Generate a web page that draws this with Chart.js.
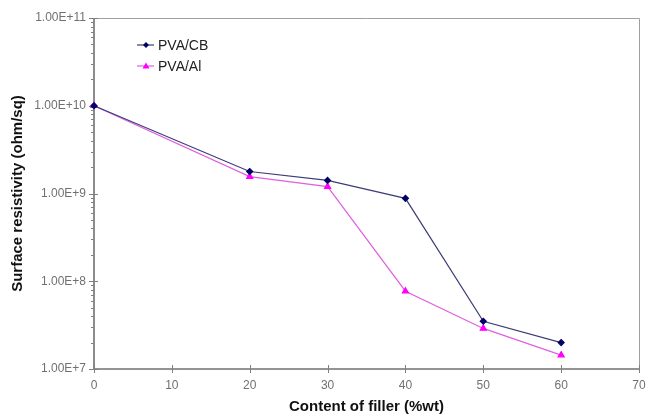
<!DOCTYPE html>
<html>
<head>
<meta charset="utf-8">
<script src="https://cdn.jsdelivr.net/npm/chart.js@4"></script>
<style>
  html, body { margin: 0; padding: 0; background: #fff; }
  #wrap { width: 646px; height: 416px; }
</style>
</head>
<body>
<div id="wrap"><canvas id="c" width="646" height="416"></canvas></div>
<script>
// filler content (% wt)
const fillerContent = [0, 20, 30, 40, 50, 60];
// surface resistivity (ohm/sq)
const pvaCB = [1.0e10, 1.78e9, 1.41e9, 8.8e8, 3.5e7, 2.0e7];
const pvaAl = [1.0e10, 1.56e9, 1.2e9, 7.7e7, 2.9e7, 1.44e7];
const seriesNames = ["PVA/CB", "PVA/Al"];
const yMin = 1e7, yMax = 1e11;
const xMin = 0, xMax = 70, xStep = 10;

const toPoints = (vals) => vals.map((v, i) => ({ x: fillerContent[i], y: v }));

// frame + tick marks, drawn before the lines so the markers sit on top
const axisFrame = {
  id: "axisFrame",
  beforeDatasetsDraw(chart) {
    const { ctx, chartArea: a, scales } = chart;
    ctx.save();
    ctx.strokeStyle = "#a0a0a0";
    ctx.lineWidth = 1;
    ctx.beginPath();
    ctx.moveTo(a.left, a.top + 0.5);
    ctx.lineTo(a.right + 0.5, a.top + 0.5);
    ctx.lineTo(a.right + 0.5, a.bottom);
    ctx.stroke();

    ctx.strokeStyle = "#707070";
    ctx.lineWidth = 1.6;
    ctx.beginPath();
    ctx.moveTo(a.left, a.top);
    ctx.lineTo(a.left, a.bottom);
    ctx.lineTo(a.right + 1, a.bottom);
    ctx.stroke();

    ctx.lineWidth = 1;
    ctx.strokeStyle = "#808080";
    const y = scales.y;
    y.ticks.forEach((t) => {
      const py = Math.round(y.getPixelForValue(t.value)) + 0.5;
      const major = t.label !== "";
      ctx.beginPath();
      ctx.moveTo(a.left - (major ? 5 : 3), py);
      ctx.lineTo(a.left + (major ? 4 : 0), py);
      ctx.stroke();
    });
    const x = scales.x;
    x.ticks.forEach((t) => {
      const px = Math.round(x.getPixelForValue(t.value)) + 0.5;
      ctx.beginPath();
      ctx.moveTo(px, a.bottom - 4);
      ctx.lineTo(px, a.bottom + 4);
      ctx.stroke();
    });
    ctx.restore();
  },
  afterDraw(chart) {
    // legend inside the plot, line + marker + name
    const { ctx } = chart;
    const x0 = 137, y0 = 45, gap = 21;
    ctx.save();
    chart.data.datasets.forEach((ds, i) => {
      const yy = y0 + i * gap;
      ctx.strokeStyle = ds.borderColor;
      ctx.lineWidth = 1.2;
      ctx.beginPath();
      ctx.moveTo(x0, yy);
      ctx.lineTo(x0 + 17, yy);
      ctx.stroke();
      ctx.fillStyle = ds.pointBackgroundColor;
      ctx.beginPath();
      const cx = x0 + 9;
      if (ds.pointStyle === "triangle") {
        ctx.moveTo(cx, yy - 3.5);
        ctx.lineTo(cx + 3.5, yy + 2.5);
        ctx.lineTo(cx - 3.5, yy + 2.5);
      } else {
        ctx.moveTo(cx, yy - 3);
        ctx.lineTo(cx + 3, yy);
        ctx.lineTo(cx, yy + 3);
        ctx.lineTo(cx - 3, yy);
      }
      ctx.closePath();
      ctx.fill();
      ctx.fillStyle = "#222";
      ctx.font = "14px 'Liberation Sans', Arial, sans-serif";
      ctx.textBaseline = "middle";
      ctx.fillText(ds.label, x0 + 21, yy + 1);
    });
    ctx.restore();
  }
};

new Chart(document.getElementById("c"), {
  type: "line",
  data: {
    datasets: [
      {
        label: seriesNames[0],
        data: toPoints(pvaCB),
        borderColor: "#3c3c78",
        backgroundColor: "#000066",
        pointBackgroundColor: "#000066",
        pointBorderColor: "#000066",
        pointStyle: "rectRot",
        pointRadius: 3,
        borderWidth: 1.2,
        tension: 0,
        clip: false
      },
      {
        label: seriesNames[1],
        data: toPoints(pvaAl),
        borderColor: "#e060e0",
        backgroundColor: "#ff00ff",
        pointBackgroundColor: "#ff00ff",
        pointBorderColor: "#ff00ff",
        pointStyle: "triangle",
        pointRadius: 3.5,
        borderWidth: 1.2,
        tension: 0,
        clip: false
      }
    ]
  },
  options: {
    responsive: false,
    animation: false,
    layout: { padding: { top: 18, right: 7, left: 0, bottom: 0 } },
    plugins: { legend: { display: false }, tooltip: { enabled: false } },
    scales: {
      x: {
        type: "linear",
        min: xMin,
        max: xMax,
        ticks: {
          stepSize: xStep,
          color: "#707070",
          font: { size: 12, family: "'Liberation Sans', Arial, sans-serif" },
          padding: 9
        },
        grid: { display: false, drawTicks: false },
        border: { display: false },
        title: {
          display: true,
          text: "Content of filler (%wt)",
          color: "#111",
          font: { size: 15, weight: "bold", family: "'Liberation Sans', Arial, sans-serif" },
          padding: { top: 0, bottom: 0 }
        },
        afterFit(scale) {
          scale.height = 47;
          scale.paddingLeft = 0;
          scale.paddingRight = 0;
        }
      },
      y: {
        type: "logarithmic",
        min: yMin,
        max: yMax,
        afterBuildTicks(scale) {
          const ticks = [];
          for (let e = 7; e <= 11; e++) {
            for (let k = 1; k <= 9; k++) {
              const v = k * Math.pow(10, e);
              if (v > yMax) break;
              ticks.push({ value: v, major: k === 1 });
            }
          }
          scale.ticks = ticks;
        },
        ticks: {
          autoSkip: false,
          color: "#707070",
          font: { size: 12, family: "'Liberation Sans', Arial, sans-serif" },
          padding: 8,
          callback(v) {
            const e = Math.log10(v);
            if (Math.abs(e - Math.round(e)) > 1e-9) return "";
            return Number(v).toExponential(2).toUpperCase();
          }
        },
        grid: { display: false, drawTicks: false },
        border: { display: false },
        title: {
          display: true,
          text: "Surface resistivity (ohm/sq)",
          color: "#111",
          font: { size: 15, weight: "bold", family: "'Liberation Sans', Arial, sans-serif" },
          padding: { top: 9, bottom: 0 }
        },
        afterFit(scale) {
          scale.width = 94;
          scale.paddingTop = 0;
          scale.paddingBottom = 0;
        }
      }
    }
  },
  plugins: [axisFrame]
});
</script>
</body>
</html>
